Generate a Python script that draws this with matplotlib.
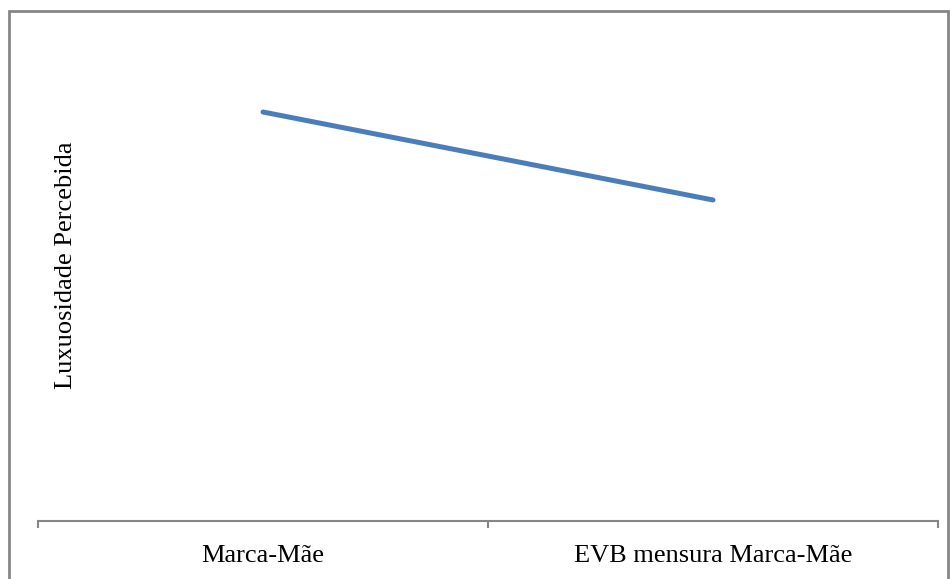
import matplotlib
matplotlib.use("Agg")
from matplotlib import pyplot as plt
from matplotlib.patches import Rectangle

# categorias e médias da luxuosidade percebida
categorias = ["Marca-Mãe", "EVB mensura Marca-Mãe"]
luxuosidade = [4.09, 3.21]

W, H = 952, 579
plt.rcParams['font.family'] = ['Liberation Serif', 'DejaVu Serif']

fig = plt.figure(figsize=(W / 100, H / 100), dpi=100)
ax = fig.add_axes([38 / W, (H - 521) / H, 900 / W, 500 / H])

xs = [i + 0.5 for i in range(len(categorias))]
ax.plot(xs, luxuosidade, color='#4a7ebb', lw=3.6, solid_capstyle='round')

ax.set_xlim(0, len(categorias))
ax.set_ylim(0, 5)
for s in ['top', 'right', 'left']:
    ax.spines[s].set_visible(False)
ax.spines['bottom'].set_color('#868686')
ax.spines['bottom'].set_linewidth(1.5)

ax.set_xticks(range(len(categorias) + 1))
ax.set_xticklabels([])
ax.tick_params(axis='x', which='major', direction='out', length=5, width=1.5, color='#868686')
ax.set_xticks(xs, minor=True)
ax.set_xticklabels(categorias, minor=True, fontsize=19)
ax.tick_params(axis='x', which='minor', length=0, pad=17)
ax.set_yticks([])

fig.text(66 / W, (H - 265) / H, "Luxuosidade Percebida", rotation=90,
         ha='center', va='center', fontsize=19)

# moldura do gráfico
fig.patches.append(Rectangle((9 / W, -0.1), 939 / W, 1.1 - 11 / H,
                             transform=fig.transFigure, fill=False,
                             edgecolor='#868686', lw=2))

fig.savefig("out.png", dpi=100)
